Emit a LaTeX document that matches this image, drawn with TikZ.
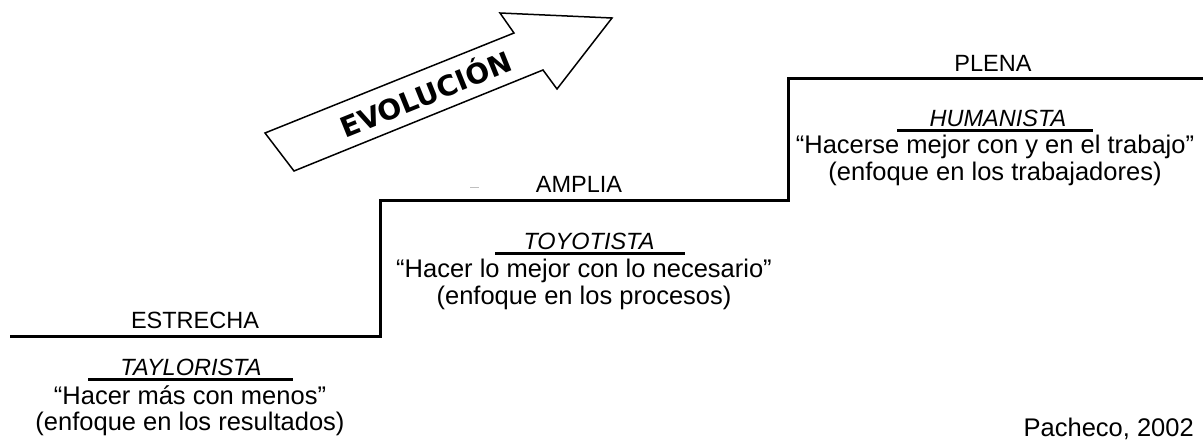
\documentclass[tikz,border=0pt]{standalone}
\usepackage{fontspec}
\setmainfont{Liberation Sans}
\newfontfamily\evofont{DejaVu Sans}
\begin{document}
\begin{tikzpicture}[x=1pt,y=-1pt,
  stair/.style={line width=3pt, line join=miter},
  lvl/.style={inner sep=0pt, anchor=base, font=\fontsize{23.5}{28}\selectfont},
  headtxt/.style={inner sep=0pt, anchor=base, font=\fontsize{23.5}{28}\selectfont\itshape},
  bodytxt/.style={inner sep=0pt, anchor=base, font=\fontsize{25.5}{30}\selectfont},
  uline/.style={line width=3pt},
  evoarrow/.style={line width=1.5pt, line join=miter, fill=white},
  evotxt/.style={rotate=22, inner sep=0pt, text height=20pt, text depth=0pt,
    font=\evofont\bfseries\fontsize{28}{30}\selectfont},
]
\useasboundingbox (0,0) rectangle (1203,441);

% staircase
\coordinate (s0) at (10,336);
\coordinate (s1) at (380,336);
\coordinate (s2) at (380,201);
\coordinate (s3) at (788,201);
\coordinate (s4) at (788,79);
\coordinate (s5) at (1203,79);
\draw[stair] (s0) -- (s1) -- (s2) -- (s3) -- (s4) -- (s5);

% arrow
\draw[evoarrow] (265,133) -- (514,33) -- (500,13) -- (612,18) -- (557,89) -- (543,70) -- (294,171) -- cycle;
\node[evotxt] (evo) at (426,95) {EVOLUCIÓN};

% level labels
\node[lvl] (estrecha) at (195,328) {ESTRECHA};
\node[lvl] (amplia) at (579,193) {AMPLIA};
\node[lvl] (plena) at (993,72) {PLENA};
\draw[gray!50, line width=1pt] (470,188) -- (479,188);

% block 1
\node[headtxt] (h1) at (191,375) {TAYLORISTA};
\draw[uline] ([xshift=-103pt,yshift=-4pt]h1.base) -- ([xshift=102pt,yshift=-4pt]h1.base);
\node[bodytxt] (q1) at (190,404) {“Hacer más con menos”};
\node[bodytxt] (e1) at (190,430) {(enfoque en los resultados)};

% block 2
\node[headtxt] (h2) at (589,249) {TOYOTISTA};
\draw[uline] ([xshift=-94pt,yshift=-4pt]h2.base) -- ([xshift=96pt,yshift=-4pt]h2.base);
\node[bodytxt] (q2) at (584,277) {“Hacer lo mejor con lo necesario”};
\node[bodytxt] (e2) at (584,304) {(enfoque en los procesos)};

% block 3
\node[headtxt] (h3) at (998,127) {HUMANISTA};
\draw[uline] ([xshift=-101pt,yshift=-4pt]h3.base) -- ([xshift=95pt,yshift=-4pt]h3.base);
\node[bodytxt] (q3) at (995,154) {“Hacerse mejor con y en el trabajo”};
\node[bodytxt] (e3) at (995,181) {(enfoque en los trabajadores)};

% source
\node[bodytxt, anchor=base east] (src) at (1194,436) {Pacheco, 2002};
\end{tikzpicture}
\end{document}
